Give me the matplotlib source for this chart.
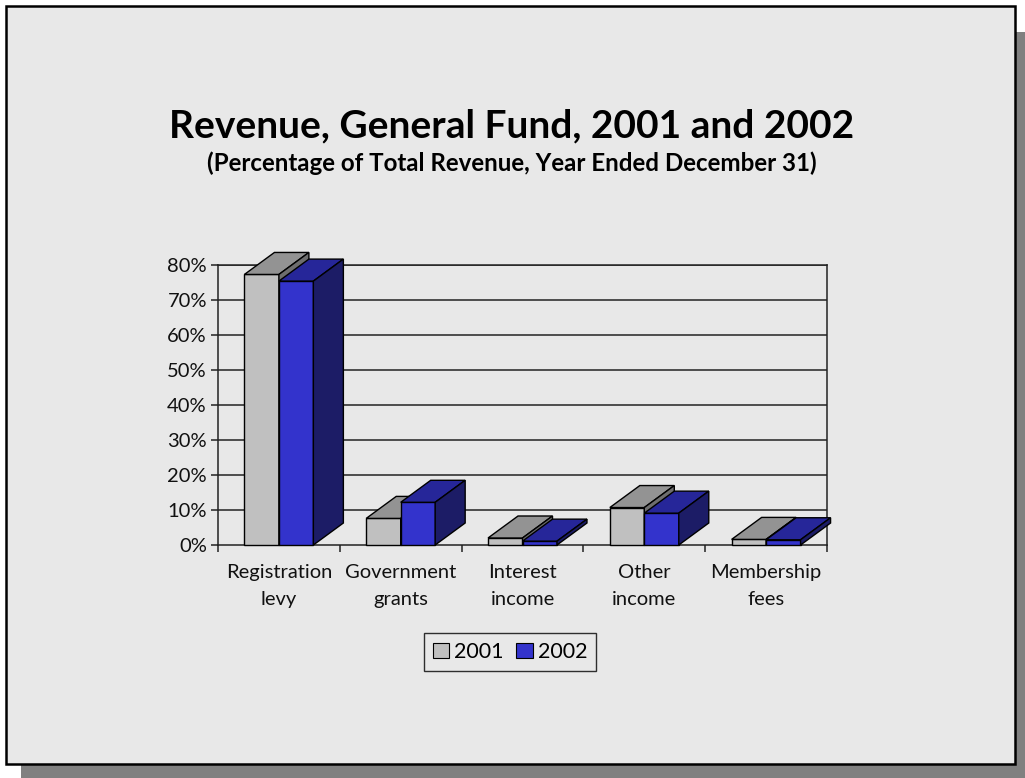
import matplotlib
matplotlib.use("Agg")
import matplotlib.pyplot as plt
from matplotlib.patches import Rectangle, Polygon, Patch

plt.rcParams['font.family'] = ['Lato', 'DejaVu Sans']

categories = ['Registration\nlevy', 'Government\ngrants', 'Interest\nincome', 'Other\nincome', 'Membership\nfees']
series_names = ['2001', '2002']
values_2001 = [77.3, 7.6, 2.0, 10.7, 1.6]
values_2002 = [75.4, 12.2, 1.1, 9.1, 1.5]
yticks = [0, 10, 20, 30, 40, 50, 60, 70, 80]
ytick_labels = ['0%', '10%', '20%', '30%', '40%', '50%', '60%', '70%', '80%']

W, H = 1025, 778
fig = plt.figure(figsize=(W / 100, H / 100), dpi=100)
fig.patch.set_facecolor('white')

# panel with drop shadow
fig.patches.append(Rectangle((21 / W, 0), 1.0, 1 - 32 / H, transform=fig.transFigure,
                             facecolor='#808080', edgecolor='none', zorder=-10))
fig.patches.append(Rectangle((6 / W, 1 - 764 / H), 1009 / W, 758 / H, transform=fig.transFigure,
                             facecolor='#E8E8E8', edgecolor='black', lw=1.8, zorder=-9))

# plot area in pixels
left, right, top, bottom = 218, 827, 265, 545
ax = fig.add_axes([left / W, 1 - bottom / H, (right - left) / W, (bottom - top) / H])
ax.set_facecolor('none')
ax.set_xlim(0, len(categories))
ax.set_ylim(0, 80)

px_x = (right - left) / len(categories)
px_y = (bottom - top) / 80
dx = 30 / px_x
dy = 22 / px_y
bw = 0.283

for y in yticks[1:]:
    ax.axhline(y, color='#222222', lw=1.1, zorder=1)
for s in ax.spines.values():
    s.set_color('#222222')
    s.set_linewidth(1.1)

styles = [('#C0C0C0', '#939393', '#6E6E6E'), ('#3333CC', '#262699', '#1C1C66')]


def bar3d(x0, h, front, topc, side):
    x1 = x0 + bw
    kw = dict(edgecolor='black', lw=1.0, clip_on=False, zorder=3)
    ax.add_patch(Polygon([(x0, 0), (x1, 0), (x1, h), (x0, h)], facecolor=front, **kw))
    ax.add_patch(Polygon([(x0, h), (x1, h), (x1 + dx, h + dy), (x0 + dx, h + dy)], facecolor=topc, **kw))
    ax.add_patch(Polygon([(x1, 0), (x1 + dx, dy), (x1 + dx, h + dy), (x1, h)], facecolor=side, **kw))


for i in range(len(categories)):
    c = i + 0.5
    bar3d(c - bw, values_2001[i], *styles[0])
    bar3d(c, values_2002[i], *styles[1])

ax.set_yticks(yticks)
ax.set_yticklabels(ytick_labels, fontsize=14.5, color='#111111')
ax.set_xticks(range(len(categories) + 1))
ax.set_xticklabels([])
ax.tick_params(axis='y', length=5, width=1.1, pad=3, color='#222222')
ax.tick_params(axis='x', length=5, width=1.1, color='#222222')

for i, lab in enumerate(categories):
    ax.text(i + 0.5, -5.5, lab, ha='center', va='top', fontsize=14.5, color='#111111',
            linespacing=1.72)

fig.text(512 / W, 1 - 137 / H, 'Revenue, General Fund, 2001 and 2002', ha='center',
         va='baseline', fontsize=28, fontweight='bold')
fig.text(512 / W, 1 - 171 / H, '(Percentage of Total Revenue, Year Ended December 31)',
         ha='center', va='baseline', fontsize=17.4, fontweight='bold')

handles = [Patch(facecolor=styles[k][0], edgecolor='black', lw=0.8) for k in range(2)]
leg = fig.legend(handles, series_names, loc='center', bbox_to_anchor=(510 / W, 1 - 652 / H),
                 ncol=2, fontsize=15.5, frameon=True, fancybox=False, handlelength=0.75,
                 handleheight=0.75, handletextpad=0.25, columnspacing=0.6, borderpad=0.4)
leg.get_frame().set_edgecolor('black')
leg.get_frame().set_facecolor('#E8E8E8')
leg.get_frame().set_linewidth(1.0)

fig.savefig('out.png', dpi=100)
